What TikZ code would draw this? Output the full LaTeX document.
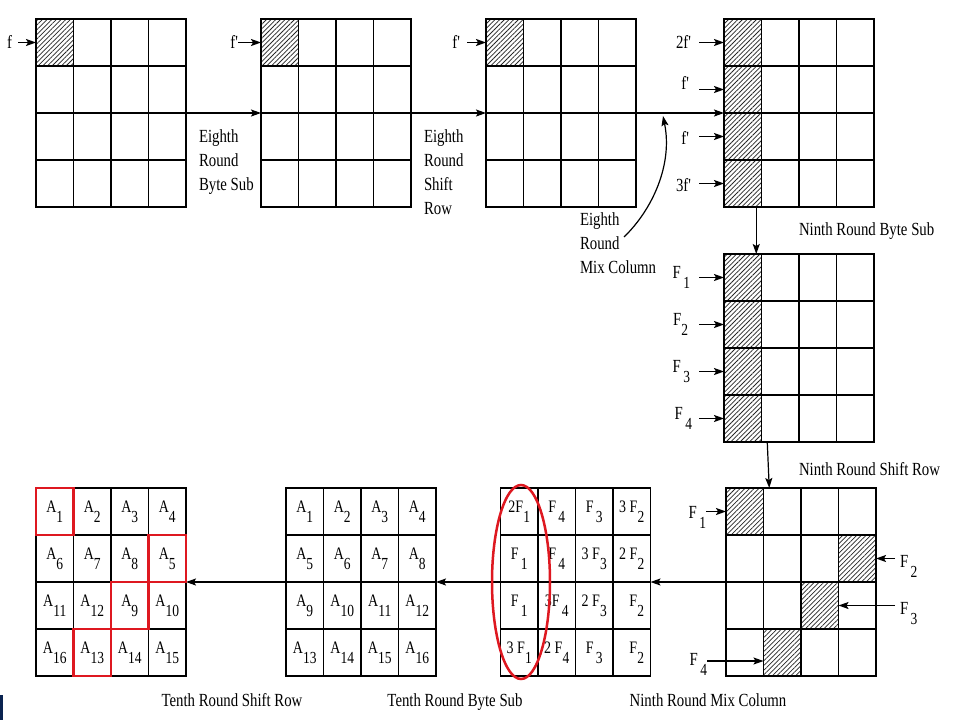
\documentclass[tikz,border=0pt]{standalone}
\usepackage{fontspec}
\setmainfont{Liberation Serif}
\usetikzlibrary{arrows.meta,patterns.meta,shapes.geometric,calc}
\newcommand\vs[1]{\scalebox{1}[1.25]{#1}}
\newcommand\cf[2]{\vs{#1\raisebox{-8pt}{\fontsize{13.5}{14}\selectfont#2}}}
\definecolor{boxred}{RGB}{222,24,32}
\definecolor{navy}{RGB}{10,35,80}
\tikzset{
  cell/.style={draw, line width=1.3pt, minimum width=37.5pt, minimum height=47pt, inner sep=0pt, outer sep=0pt},
  gridline/.style={line width=1.3pt},
  hatchfill/.style={pattern={Lines[angle=45,distance=3.3pt,line width=0.75pt]}, pattern color=black!85},
  arr/.style={line width=1.2pt, -{Stealth[length=10pt,width=7pt,inset=2pt]}},
  lbl/.style={inner sep=0pt, outer sep=0pt, font=\fontsize{14.8}{24}\selectfont},
  ctxt/.style={inner sep=0pt, font=\fontsize{14}{16}\selectfont},
  redbox/.style={draw=boxred, line width=2.6pt},
}
\newcommand\grid[3]{%
  \foreach \r in {0,...,3}{\foreach \c in {0,...,3}{
    \node[cell] (#1-\r-\c) at ({#2+18.75+37.5*\c},{#3+23.5+47*\r}) {};
  }}}
\newcommand\hatch[1]{%
  \fill[hatchfill] (#1.south west) rectangle (#1.north east);
  \draw[gridline] (#1.south west) rectangle (#1.north east);}
\begin{document}
\begin{tikzpicture}[x=1pt,y=-1pt]
\useasboundingbox (0,0) rectangle (960,720);
\fill[white] (0,0) rectangle (960,720);

% grids
\grid{g1}{36}{19}
\grid{g2}{261}{19}
\grid{g3}{486}{19}
\grid{g4}{724}{19}
\grid{g5}{724}{254}
\grid{g6}{726}{488}
\grid{g7}{500.5}{488}
\grid{g8}{286}{488}
\grid{g9}{36}{488}

% hatching
\hatch{g1-0-0}
\hatch{g2-0-0}
\hatch{g3-0-0}
\foreach \r in {0,...,3}{\hatch{g4-\r-0}\hatch{g5-\r-0}}
\hatch{g6-0-0}
\hatch{g6-1-3}
\hatch{g6-2-2}
\hatch{g6-3-1}

% top row connectors
\draw[arr] (g1-1-3.south east) -- (g2-1-0.south west);
\draw[arr] (g2-1-3.south east) -- (g3-1-0.south west);
\draw[arr] (g3-1-3.south east) -- (g4-1-0.south west);
\draw[arr] ([xshift=-24pt]g4-3-1.south) -- ([xshift=-24pt]g5-0-1.north);
\draw[arr] ([xshift=-13pt]g5-3-1.south) -- ([xshift=-13pt]g6-0-1.north);
% bottom row connectors
\draw[arr] (g6-1-0.south west) -- (g7-1-3.south east);
\draw[arr] (g7-1-0.south west) -- (g8-1-3.south east);
\draw[arr] (g8-1-0.south west) -- (g9-1-3.south east);

% input labels, grid 1-3
\node[lbl, anchor=east] (lf1) at (12,42) {\vs{f}};
\draw[arr] ($(lf1.east |- g1-0-0.west)+(6,0)$) -- (g1-0-0.west);
\node[lbl, anchor=east] (lf2) at (238,42) {\vs{f\textquotesingle}};
\draw[arr] (lf2.east |- g2-0-0.west) -- (g2-0-0.west);
\node[lbl, anchor=east] (lf3) at (460,42) {\vs{f\textquotesingle}};
\draw[arr] ($(lf3.east |- g3-0-0.west)+(7,0)$) -- (g3-0-0.west);

% grid 4 labels
\node[lbl, anchor=east] (l4a) at (691,42) {\vs{2f\textquotesingle}};
\node[lbl, anchor=east] (l4b) at (689,83) {\vs{f\textquotesingle}};
\node[lbl, anchor=east] (l4c) at (689,138) {\vs{f\textquotesingle}};
\node[lbl, anchor=east] (l4d) at (691,185) {\vs{3f\textquotesingle}};
\draw[arr] ($(l4a.east |- g4-0-0.west)+(8,0)$) -- (g4-0-0.west);
\draw[arr] ($(l4a.east |- g4-1-0.west)+(8,0)$) -- (g4-1-0.west);
\draw[arr] ($(l4a.east |- g4-2-0.west)+(8,0)$) -- (g4-2-0.west);
\draw[arr] ($(l4a.east |- g4-3-0.west)+(8,0)$) -- (g4-3-0.west);

% grid 5 labels
\node[lbl, anchor=east] (l5a) at (690,277.5) {\cf{F\,}{1}};
\node[lbl, anchor=east] (l5b) at (688,324.5) {\cf{F}{2}};
\node[lbl, anchor=east] (l5c) at (690,371.5) {\cf{F\,}{3}};
\node[lbl, anchor=east] (l5d) at (692,418.5) {\cf{F\,}{4}};
\draw[arr] ($(l5a.east |- g5-0-0.west)+(9,0)$) -- (g5-0-0.west);
\draw[arr] ($(l5a.east |- g5-1-0.west)+(9,0)$) -- (g5-1-0.west);
\draw[arr] ($(l5a.east |- g5-2-0.west)+(9,0)$) -- (g5-2-0.west);
\draw[arr] ($(l5a.east |- g5-3-0.west)+(9,0)$) -- (g5-3-0.west);

% grid 6 labels
\node[lbl, anchor=east] (l6a) at (706,517) {\cf{F\,}{1}};
\draw[arr] (l6a.east |- g6-0-0.west) -- (g6-0-0.west);
\node[lbl, anchor=west] (l6b) at (900,566) {\cf{F\,}{2}};
\draw[arr] ($(l6b.west |- g6-1-3.east)+(-5,0)$) -- (g6-1-3.east);
\node[lbl, anchor=west] (l6c) at (900,614) {\cf{F\,}{3}};
\draw[arr] ($(l6c.west |- g6-2-2.east)+(-5,0)$) -- (g6-2-2.east);
\node[lbl, anchor=east] (l6d) at (707,664) {\cf{F\,}{4}};
\coordinate (f4t) at ($(g6-3-1.west)+(0,8.5)$);
\draw[arr] (l6d.east |- f4t) -- (f4t);

% step labels
\node[lbl, anchor=north west, align=left] (s1) at (199,130) {\vs{Eighth}\\\vs{Round}\\\vs{Byte Sub}};
\node[lbl, anchor=north west, align=left] (s2) at (424,130) {\vs{Eighth}\\\vs{Round}\\\vs{Shift}\\\vs{Row}};
\node[lbl, anchor=north west, align=left] (s3) at (580,213) {\vs{Eighth}\\\vs{Round}\\\vs{Mix Column}};
\coordinate (mixs) at (624,237);
\coordinate (mixe) at (663,116);
\draw[arr] (mixs) .. controls (652,210) and (673,165) .. (mixe);
\node[lbl, anchor=west] (s4) at (799,231) {\vs{Ninth Round Byte Sub}};
\node[lbl, anchor=west] (s5) at (799,469) {\vs{Ninth Round Shift Row}};
\node[lbl, anchor=base] (s6) at (708,706) {\vs{Ninth Round Mix Column}};
\node[lbl, anchor=base] (s7) at (455,706) {\vs{Tenth Round Byte Sub}};
\node[lbl, anchor=base] (s8) at (232,706) {\vs{Tenth Round Shift Row}};

% grid 7 contents
\node[ctxt] at (g7-0-0) {\cf{2F}{1}};
\node[ctxt] at (g7-0-1) {\cf{F\,}{4}};
\node[ctxt] at (g7-0-2) {\cf{F\,}{3}};
\node[ctxt] at (g7-0-3) {\cf{3 F}{2}};
\node[ctxt] at (g7-1-0) {\cf{F\,}{1}};
\node[ctxt] at (g7-1-1) {\cf{F\,}{4}};
\node[ctxt] at (g7-1-2) {\cf{3 F}{3}};
\node[ctxt] at (g7-1-3) {\cf{2 F}{2}};
\node[ctxt] at (g7-2-0) {\cf{F\,}{1}};
\node[ctxt] at (g7-2-1) {\cf{3F\,}{4}};
\node[ctxt] at (g7-2-2) {\cf{2 F}{3}};
\node[ctxt] at ([xshift=5pt]g7-2-3) {\cf{F}{2}};
\node[ctxt] at (g7-3-0) {\cf{3 F}{1}};
\node[ctxt] at (g7-3-1) {\cf{2 F}{4}};
\node[ctxt] at (g7-3-2) {\cf{F\,}{3}};
\node[ctxt] at ([xshift=5pt]g7-3-3) {\cf{F}{2}};

% grid 8 contents
\foreach \r in {0,...,3}{\foreach \c in {0,...,3}{
  \pgfmathtruncatemacro\n{4*\r+\c+1}
  \node[ctxt] at (g8-\r-\c) {\cf{A}{\n}};
}}

% grid 9 contents
\node[ctxt] at (g9-0-0) {\cf{A}{1}};
\node[ctxt] at (g9-0-1) {\cf{A}{2}};
\node[ctxt] at (g9-0-2) {\cf{A}{3}};
\node[ctxt] at (g9-0-3) {\cf{A}{4}};
\node[ctxt] at (g9-1-0) {\cf{A}{6}};
\node[ctxt] at (g9-1-1) {\cf{A}{7}};
\node[ctxt] at (g9-1-2) {\cf{A}{8}};
\node[ctxt] at (g9-1-3) {\cf{A}{5}};
\node[ctxt] at (g9-2-0) {\cf{A}{11}};
\node[ctxt] at (g9-2-1) {\cf{A}{12}};
\node[ctxt] at (g9-2-2) {\cf{A}{9}};
\node[ctxt] at (g9-2-3) {\cf{A}{10}};
\node[ctxt] at (g9-3-0) {\cf{A}{16}};
\node[ctxt] at (g9-3-1) {\cf{A}{13}};
\node[ctxt] at (g9-3-2) {\cf{A}{14}};
\node[ctxt] at (g9-3-3) {\cf{A}{15}};

% red highlights
\draw[redbox] (g9-0-0.south west) rectangle (g9-0-0.north east);
\draw[redbox] (g9-1-3.south west) rectangle (g9-1-3.north east);
\draw[redbox] (g9-2-2.south west) rectangle (g9-2-2.north east);
\draw[redbox] (g9-3-1.south west) rectangle (g9-3-1.north east);
\node[ellipse, draw=boxred, line width=2.5pt, minimum width=58pt, minimum height=194pt, inner sep=0pt] (ell) at (521,582) {};

% edge mark
\fill[navy] (0,695) rectangle (3,720);
\end{tikzpicture}
\end{document}
